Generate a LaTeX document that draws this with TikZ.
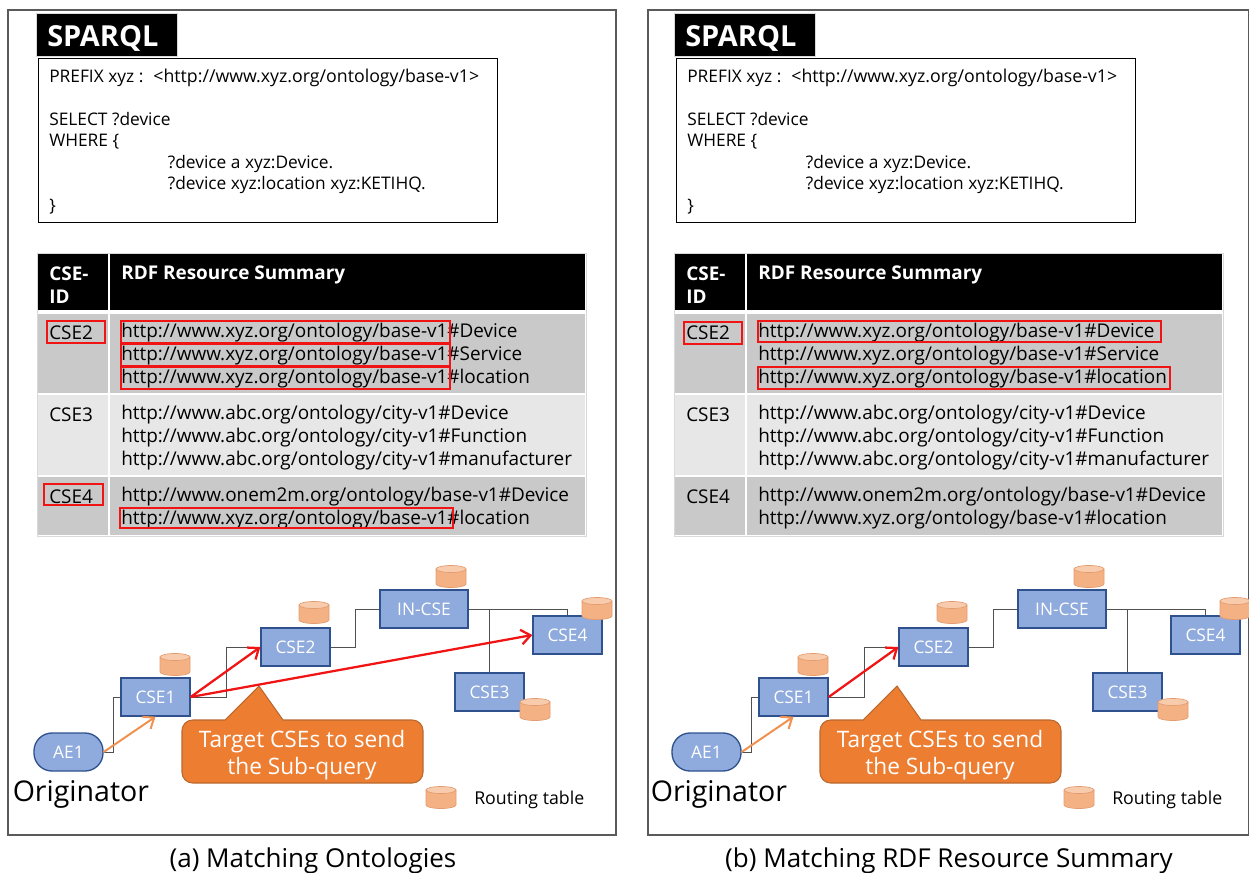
\documentclass[tikz,border=0pt]{standalone}
\usepackage{fontspec}
\setmainfont{Open Sans}
\usetikzlibrary{arrows.meta}
\definecolor{csefill}{HTML}{8FAADC}
\definecolor{cseline}{HTML}{2F528F}
\definecolor{aeorange}{HTML}{ED7D31}
\definecolor{aeline}{HTML}{B8692F}
\definecolor{rtbody}{HTML}{F4B183}
\definecolor{rttop}{HTML}{F8CBAD}
\definecolor{rtline}{HTML}{E39C70}
\definecolor{tabledark}{HTML}{C9C9C9}
\definecolor{tablelight}{HTML}{E7E7E7}
\definecolor{tableedge}{HTML}{D9D9D9}
\definecolor{connline}{HTML}{505050}
\definecolor{framegray}{HTML}{5A5A5A}
\definecolor{redbox}{HTML}{F01414}
\tikzset{
	csebox/.style={draw=cseline, line width=1pt, fill=csefill, minimum width=51.75pt, minimum height=28.5pt, inner sep=0pt, text=white, font=\fontsize{13}{15}\selectfont},
	aebox/.style={csebox, rounded corners=13.5pt},
	routing/.pic={
		\path[fill=rtbody, draw=rtline, line width=.5pt] (-15,-7) -- (-15,8) arc[start angle=180, end angle=0, x radius=15, y radius=3.5] -- (15,-7) -- cycle;
		\path[fill=rttop, draw=rtline, line width=.5pt] (0,-7) ellipse[x radius=15, y radius=3.5];
	},
	conn/.style={connline, line width=.7pt},
	redarrow/.style={redbox, line width=1.7pt, -{Straight Barb[length=7pt,width=11pt]}},
	orangearrow/.style={aeorange!85!white, line width=1.5pt, -{Straight Barb[length=7pt,width=11pt]}},
	redrect/.style={draw=redbox, line width=1pt},
	headcell/.style={fill=black, inner sep=0pt, anchor=north west},
	rowcell/.style={inner sep=0pt, anchor=north west},
	urltext/.style={anchor=west, inner sep=0pt, align=left, font=\urlfont},
	celltext/.style={anchor=west, inner sep=0pt, font=\urlfont},
}
\newcommand{\urlfont}{\fontsize{14.2}{17.25}\selectfont}
% everything both panels have in common
\newcommand{\drawpanel}[2]{
	\node[fill=black, draw=tableedge, line width=.6pt, anchor=north west, minimum width=105.75pt, minimum height=32.25pt, inner sep=0pt] (sparql) at (36,13) {};
	\node[anchor=west, inner sep=0pt, text=white, font=\fontsize{21.7}{25}\selectfont\bfseries] (sparqltext) at (47,38.5) {SPARQL};
	\node[draw=black, line width=1pt, anchor=north west, minimum width=344.25pt, minimum height=123pt, inner sep=0pt] (query) at (38,58) {};
	\node[anchor=west, inner sep=0pt, align=left, font=\fontsize{13}{16.1}\selectfont] (querytext) at (49,141.5) {PREFIX xyz : \hspace{3pt}{\fontsize{13.3}{16.1}\selectfont <http://www.xyz.org/ontology/base-v1>}\\[16.1pt]
		SELECT ?device\\WHERE \{\\
		\hspace*{89pt}?device a xyz:Device.\\
		\hspace*{89pt}?device xyz:location xyz:KETIHQ.\\\}};

	\begin{scope}[shift={(#1,0)}]
	\draw[tableedge, line width=.6pt] (37,253) rectangle (586,536);
	\node[headcell, minimum width=52pt, minimum height=42pt] (head1) at (38,254) {};
	\node[headcell, minimum width=356pt, minimum height=42pt] (head2) at (110,254) {};
	\node[rowcell, fill=tabledark, minimum width=52pt, minimum height=59pt] (cell1a) at (38,314) {};
	\node[rowcell, fill=tabledark, minimum width=356pt, minimum height=59pt] (cell1b) at (110,314) {};
	\node[rowcell, fill=tablelight, minimum width=52pt, minimum height=60pt] (cell2a) at (38,395) {};
	\node[rowcell, fill=tablelight, minimum width=356pt, minimum height=60pt] (cell2b) at (110,395) {};
	\node[rowcell, fill=tabledark, minimum width=52pt, minimum height=43pt] (cell3a) at (38,477) {};
	\node[rowcell, fill=tabledark, minimum width=356pt, minimum height=43pt] (cell3b) at (110,477) {};

	\node[celltext, text=white, align=left, font=\urlfont\bfseries] (cseid) at (49,285) {CSE-\\ID};
	\node[celltext, text=white, font=\urlfont\bfseries] (rdfhead) at (121,275) {RDF Resource Summary};
	\node[celltext] (id2) at (49,333) {CSE2};
	\node[celltext] (id3) at (49,415) {CSE3};
	\node[celltext] (id4) at (49,497) {CSE4};
	\node[urltext] (url2) at (121,356) {http://www.xyz.org/ontology/base-v1\#Device\\http://www.xyz.org/ontology/base-v1\#Service\\http://www.xyz.org/ontology/base-v1\#location};
	\node[urltext] (url3) at (121,438) {http://www.abc.org/ontology/city-v1\#Device\\http://www.abc.org/ontology/city-v1\#Function\\http://www.abc.org/ontology/city-v1\#manufacturer};
	\node[urltext] (url4) at (121,508.5) {http://www.onem2m.org/ontology/base-v1\#Device\\http://www.xyz.org/ontology/base-v1\#location};
	\end{scope}

	\node[csebox] (cse1) at (155.5,697) {CSE1};
	\node[csebox] (cse2) at (295.5,647) {CSE2};
	\node[csebox, minimum width=66pt] (incse) at (424,609) {IN-CSE};
	\node[csebox] (cse4) at (567.5,635) {CSE4};
	\node[csebox] (cse3) at (489.5,692) {CSE3};
	\node[aebox] (ae1) at (68.5,752) {AE1};

	\pic (rt1) at (175,664) {routing};
	\pic (rt2) at (314,612) {routing};
	\pic (rtin) at (451,576) {routing};
	\pic (rt4) at (597,608) {routing};
	\pic (rt3) at (535,709) {routing};
	\pic (rtkey) at (441,797) {routing};
	\node[anchor=west, inner sep=0pt, font=\fontsize{13.3}{15}\selectfont] (rtlabel) at (474,799.5) {Routing table};
	\node[anchor=west, inner sep=0pt, font=\fontsize{21.4}{25}\selectfont] (originator) at (12.5,794) {Originator};

	\draw[conn] (ae1.east) -- ++(10,0) |- (cse1.west);
	\draw[conn] (cse1.east) -- ++(36,0) |- (cse2.west);
	\draw[conn] (cse2.east) -- ++(25,0) |- (incse.west);
	\draw[conn] (incse.east) -| (cse4.north);
	\draw[conn] (incse.east) -| (cse3.north);

	\draw[orangearrow] (ae1.east) -- (cse1.south);
	\draw[redarrow] (cse1.east) -- (cse2.west);

	\draw[aeline, line width=.8pt, fill=aeorange, rounded corners=8pt] (225,720) -- (182,720) -- (182,783) -- (423,783) -- (423,720) [sharp corners] -- (283,720) -- (259,686) -- cycle;
	\node[text=white, align=center, font=\fontsize{17}{20.25}\selectfont] (target) at (302,755.5) {Target CSEs to send\\the Sub-query};
	#2
}
\begin{document}
\begin{tikzpicture}[x=0.75pt, y=-0.75pt]
	\useasboundingbox (0,0) rectangle (1249,872);
	\draw[framegray, line width=.9pt] (8,10) rectangle (616,835);
	\draw[framegray, line width=.9pt] (648,10) rectangle (1249,835);

	\begin{scope}[name prefix=a-]
		\drawpanel{0}{
			\draw[redrect] (47,321) rectangle (105,343);
			\draw[redrect] (121,321) rectangle (450,343);
			\draw[redrect] (121,344) rectangle (450,366);
			\draw[redrect] (121,367) rectangle (450,389);
			\draw[redrect] (44,484) rectangle (103,505);
			\draw[redrect] (120,508) rectangle (453,528);
			\draw[redarrow] (cse1.east) -- (cse4.west);
		}
	\end{scope}
	\begin{scope}[shift={(638,0)}, name prefix=b-]
		\drawpanel{-1}{
			\draw[redrect] (46,322) rectangle (104,344);
			\draw[redrect] (120,321) rectangle (523,342);
			\draw[redrect] (120,367) rectangle (532,389);
		}
	\end{scope}

	\node[font=\fontsize{19.5}{22}\selectfont] (capa) at (313,861) {(a) Matching Ontologies};
	\node[font=\fontsize{19.5}{22}\selectfont] (capb) at (949,861) {(b) Matching RDF Resource Summary};
\end{tikzpicture}
\end{document}
